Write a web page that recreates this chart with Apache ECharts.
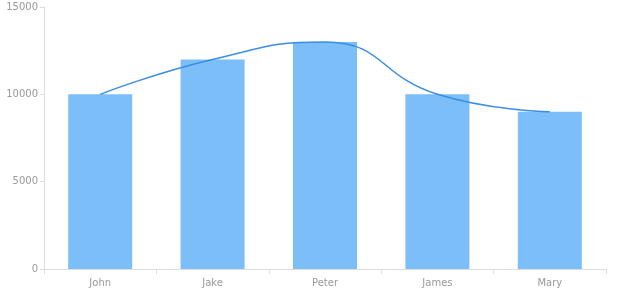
<!DOCTYPE html>
<html><head><meta charset="utf-8">
<script src="https://cdn.jsdelivr.net/npm/echarts@6/dist/echarts.min.js"></script>
<style>html,body{margin:0;padding:0;background:#fff}#c{width:620px;height:300px}</style>
</head><body><div id="c"></div>
<script>
const categories = ['John', 'Jake', 'Peter', 'James', 'Mary'];
const barValues = [10000, 12000, 13000, 10000, 9000];
const lineValues = [10000, 12000, 13000, 10000, 9000];
const yTicks = [0, 5000, 10000, 15000];

const chart = echarts.init(document.getElementById('c'));
const textStyle = { color: '#999', fontFamily: 'DejaVu Sans', fontSize: 10 };
chart.setOption({
  animation: false,
  grid: { left: 44, right: 14, top: 7, bottom: 31, containLabel: false },
  xAxis: {
    type: 'category', data: categories,
    axisLine: { lineStyle: { color: '#ddd' } },
    axisTick: { show: true, lineStyle: { color: '#ddd' } },
    axisLabel: Object.assign({ margin: 9 }, textStyle)
  },
  yAxis: {
    type: 'value', min: yTicks[0], max: yTicks[yTicks.length - 1], interval: 5000,
    axisLine: { show: true, lineStyle: { color: '#ddd' } },
    axisTick: { show: true, length: 4, lineStyle: { color: '#ddd' } },
    splitLine: { show: false },
    axisLabel: Object.assign({ margin: 6, formatter: v => String(v) }, textStyle)
  },
  series: [
    { type: 'bar', data: barValues, barWidth: 64, itemStyle: { color: '#7cbef7' } },
    { type: 'line', data: lineValues, smooth: true, showSymbol: false, symbol: 'none',
      lineStyle: { color: '#3a8ee6', width: 1.5 }, z: 5 }
  ]
});
</script></body></html>
